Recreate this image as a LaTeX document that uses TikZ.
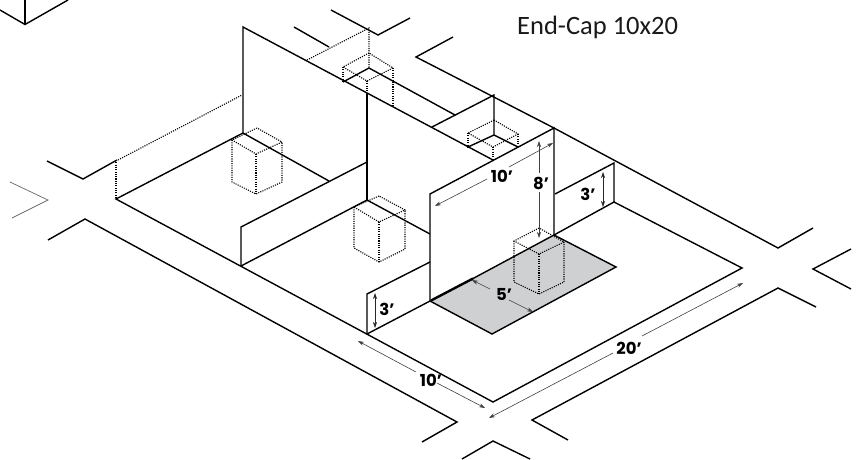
\documentclass[tikz,border=0pt]{standalone}
\usepackage{fontspec}
\setmainfont{Carlito}
\newfontfamily\dimfont{Poppins}
\usetikzlibrary{arrows.meta}
\definecolor{floorgray}{RGB}{207,208,210}
\tikzset{
  x=1pt,y=-1pt,
  wall/.style={line width=1.4pt,black,line join=miter,line cap=butt},
  heavy/.style={line width=2.4pt,black},
  road/.style={line width=1.4pt,black},
  faint/.style={line width=0.7pt,black!60},
  hidden/.style={line width=1.1pt,black,dash pattern=on 1.1pt off 1.2pt},
  dimline/.style={line width=0.6pt,black!75,-{Stealth[length=6pt,width=4pt]}},
  dimline2/.style={line width=0.6pt,black!85,{Stealth[length=6pt,width=4pt]}-{Stealth[length=6pt,width=4pt]}},
  dimlabel/.style={font=\dimfont\bfseries\fontsize{16.5}{17}\selectfont,inner sep=0pt,text=black},
  title/.style={font=\fontsize{26.5}{28}\selectfont,inner sep=0pt,text=black!90}
}
\begin{document}
\begin{tikzpicture}
\useasboundingbox (0,0) rectangle (858,459);
% floor patch
\fill[floorgray] (430,301) -- (554,235) -- (616,267) -- (492,334) -- cycle;
% corner at top left
\draw[road] (0,10) -- (25,24.5) -- (68,0);
\draw[road] (25,24.5) -- (25,0);
% roads
\draw[road] (47,161) -- (83,179) -- (117,160);
\draw[road] (294,27) -- (329,47);
\draw[road] (331,10) -- (378,35) -- (410,18);
\draw[road] (453,37) -- (416,57) -- (554,128) -- (778,248) -- (813,228);
\draw[road] (48,240) -- (85,219) -- (457,422) -- (422,442);
\draw[road] (462,459) -- (493,441) -- (530,459);
\draw[road] (568,440) -- (532,420) -- (778,288) -- (816,307);
\draw[road] (851,249) -- (813,269) -- (851,289);
\draw[faint] (10,182) -- (48,200) -- (12,218);
% outer floor
\draw[wall] (243,133) -- (116,199) -- (493,402) -- (742,268) -- (614,202) -- (554,235);
% back walls
\draw[wall] (243,133) -- (243,27) -- (493,160);
\draw[wall] (243,133) -- (329,181);
\draw[wall] (241,266) -- (241,227) -- (367,162);
\draw[wall] (241,266) -- (367,200) -- (430,234);
\draw[wall] (367,94) -- (367,200);
\draw[wall] (343,82) -- (369,68) -- (455,115);
\draw[wall] (432,127) -- (494,95) -- (494,135) -- (468,147);
\draw[wall] (494,135) -- (518,147);
% short walls
\draw[wall] (367,334) -- (367,294) -- (430,262);
\draw[wall] (367,334) -- (430,301);
\draw[wall] (555,194) -- (614,163) -- (614,202);
% main panel
\draw[wall] (430,301) -- (430,194) -- (554,128) -- (554,235);
\draw[heavy] (431,300.5) -- (473,278.5);
\draw[wall] (473,278.5) -- (554,235);
\draw[wall] (554,235) -- (616,267) -- (492,334) -- (430,301);
% dotted extensions
\draw[hidden] (118,160) -- (242,95);
\draw[hidden] (116,160) -- (116,199);
\draw[hidden] (307,60) -- (369,28) -- (369,68);
% box 1
\draw[hidden] (257,128) -- (232,140) -- (256,154) -- (282,142) -- cycle;
\draw[hidden] (232,140) -- (232,182) -- (256,194) -- (282,182) -- (282,142);
\draw[hidden] (256,154) -- (256,194);
% box 2
\draw[hidden] (379,196) -- (354,207) -- (379,222) -- (405,210) -- cycle;
\draw[hidden] (354,207) -- (354,248) -- (379,262) -- (405,249) -- (405,210);
\draw[hidden] (379,222) -- (379,262);
% box 3
\draw[hidden] (369,53) -- (343,67) -- (367,81) -- (393,68) -- cycle;
\draw[hidden] (343,67) -- (343,82);
\draw[hidden] (367,81) -- (367,94);
\draw[hidden] (393,68) -- (393,107);
% box 4
\draw[hidden] (494,120) -- (468,133) -- (493,147) -- (518,134) -- cycle;
\draw[hidden] (468,133) -- (468,147);
\draw[hidden] (493,147) -- (493,160);
\draw[hidden] (518,134) -- (518,147);
% box 5
\draw[hidden] (539,228) -- (514,241) -- (539,254) -- (564,242) -- cycle;
\draw[hidden] (514,241) -- (514,282) -- (539,294) -- (564,282) -- (564,242);
\draw[hidden] (539,254) -- (539,294);
% labels
\node[title,anchor=west] (ttl) at (517,27) {End-Cap 10x20};
\node[dimlabel] (dTen) at (502,176) {10’};
\node[dimlabel] (dEight) at (541,183) {8’};
\node[dimlabel] (dThreeR) at (588,194) {3’};
\node[dimlabel] (dThreeL) at (387,309) {3’};
\node[dimlabel] (dTenB) at (431,380) {10’};
\node[dimlabel] (dTwenty) at (629,348) {20’};
\node[dimlabel] (dFive) at (504,294) {5’};
% free ends of the dimension arrows
\coordinate (a1) at (435,206); \coordinate (a2) at (553,143);
\coordinate (b1) at (539,141); \coordinate (b2) at (539,238);
\coordinate (c1) at (358,341); \coordinate (c2) at (485,408);
\coordinate (e1) at (489,418); \coordinate (e2) at (743,283);
\coordinate (f1) at (472,280); \coordinate (f2) at (533,312);
\draw[dimline] (487,179) -- (a1);
\draw[dimline] (509,167) -- (a2);
\draw[dimline] (539,173) -- (b1);
\draw[dimline] (539,192) -- (b2);
\draw[dimline2] (603,172) -- (603,207);
\draw[dimline2] (375,293) -- (375,328);
\draw[dimline] (416,372) -- (c1);
\draw[dimline] (437,383) -- (c2);
\draw[dimline] (613,353) -- (e1);
\draw[dimline] (642,336) -- (e2);
\draw[dimline] (490,289) -- (f1);
\draw[dimline] (509,300) -- (f2);
\end{tikzpicture}
\end{document}
